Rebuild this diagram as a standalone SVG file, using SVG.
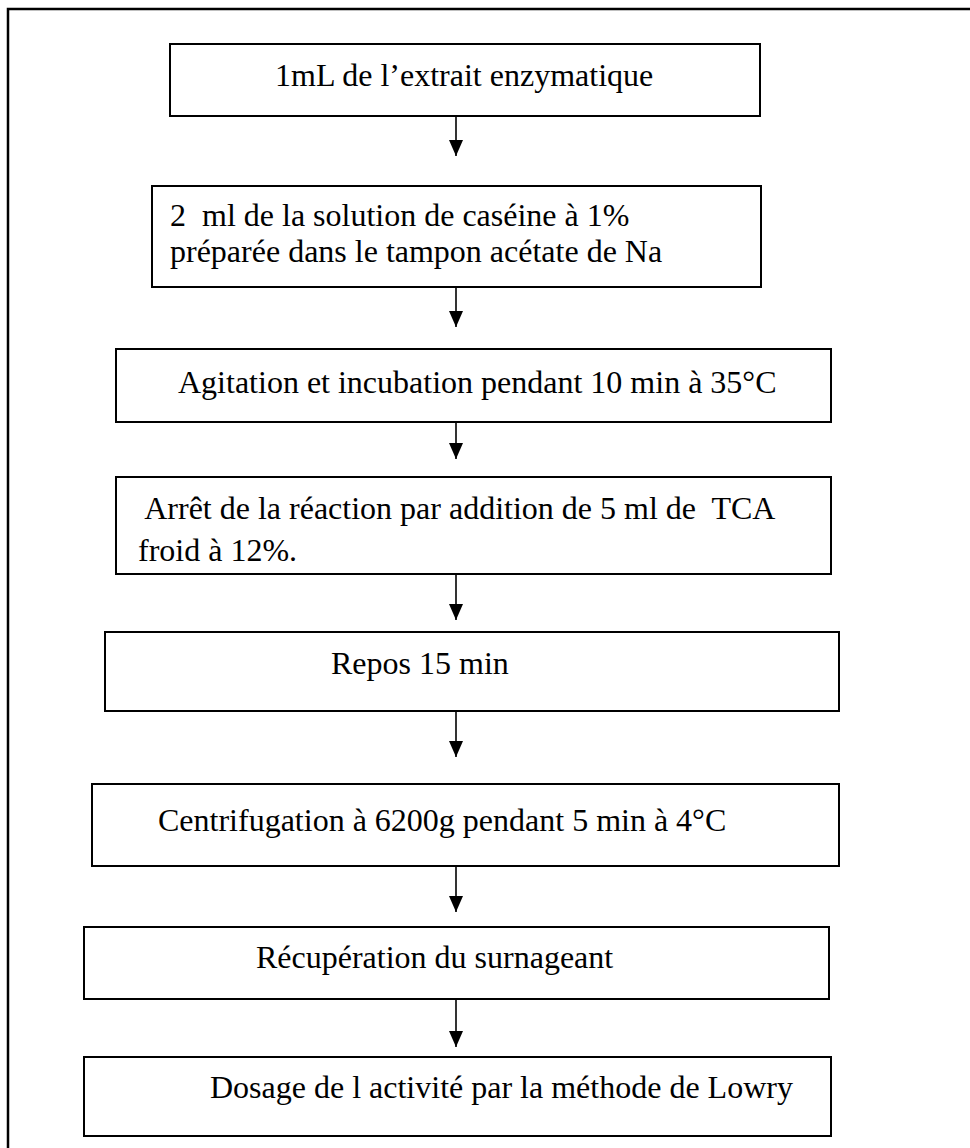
<svg xmlns="http://www.w3.org/2000/svg" width="970" height="1148" viewBox="0 0 970 1148">
  <style>
    .box { fill: #ffffff; stroke: #000000; stroke-width: 2; }
    .lbl { font-family: "Liberation Serif", "Times New Roman", serif; font-size: 32px; fill: #000000; }
    .wire { stroke: #000000; stroke-width: 1.6; fill: none; }
    .frame { stroke: #000000; stroke-width: 2.5; fill: none; }
  </style>
  <defs>
    <!-- solid triangular arrowhead, tip at the end of the line -->
    <marker id="head" viewBox="0 0 16 14" refX="16" refY="7" markerWidth="16" markerHeight="14" markerUnits="userSpaceOnUse" orient="auto">
      <path d="M0,0 L16,7 L0,14 Z" fill="#000000"/>
    </marker>
  </defs>

  <!-- page frame (open on right and bottom) -->
  <path class="frame" d="M8,1148 V9 H970"/>

  <g id="connectors">
    <line class="wire" x1="456" y1="116" x2="456" y2="156" marker-end="url(#head)"/>
    <line class="wire" x1="456" y1="287" x2="456" y2="327" marker-end="url(#head)"/>
    <line class="wire" x1="456" y1="422" x2="456" y2="459" marker-end="url(#head)"/>
    <line class="wire" x1="456" y1="574" x2="456" y2="620" marker-end="url(#head)"/>
    <line class="wire" x1="456" y1="711" x2="456" y2="757" marker-end="url(#head)"/>
    <line class="wire" x1="456" y1="866" x2="456" y2="912" marker-end="url(#head)"/>
    <line class="wire" x1="456" y1="999" x2="456" y2="1047" marker-end="url(#head)"/>
  </g>

  <g id="step1">
    <rect class="box" x="170" y="44" width="590" height="72"/>
    <text class="lbl" x="275" y="86">1mL de l’extrait enzymatique</text>
  </g>

  <g id="step2">
    <rect class="box" x="152" y="186" width="609" height="101"/>
    <text class="lbl" x="170" y="226" xml:space="preserve">2  ml de la solution de caséine à 1%</text>
    <text class="lbl" x="170" y="262">préparée dans le tampon acétate de Na</text>
  </g>

  <g id="step3">
    <rect class="box" x="116" y="349" width="715" height="73"/>
    <text class="lbl" x="178" y="393">Agitation et incubation pendant 10 min à 35°C</text>
  </g>

  <g id="step4">
    <rect class="box" x="116" y="477" width="715" height="97"/>
    <text class="lbl" x="138" y="519" xml:space="preserve"> Arrêt de la réaction par addition de 5 ml de  TCA</text>
    <text class="lbl" x="138" y="561">froid à 12%.</text>
  </g>

  <g id="step5">
    <rect class="box" x="105" y="632" width="734" height="79"/>
    <text class="lbl" x="331" y="674">Repos 15 min</text>
  </g>

  <g id="step6">
    <rect class="box" x="92" y="784" width="747" height="82"/>
    <text class="lbl" x="158" y="831">Centrifugation à 6200g pendant 5 min à 4°C</text>
  </g>

  <g id="step7">
    <rect class="box" x="84" y="927" width="745" height="72"/>
    <text class="lbl" x="256" y="968">Récupération du surnageant</text>
  </g>

  <g id="step8">
    <rect class="box" x="84" y="1057" width="747" height="79"/>
    <text class="lbl" x="210" y="1098">Dosage de l activité par la méthode de Lowry</text>
  </g>
</svg>
